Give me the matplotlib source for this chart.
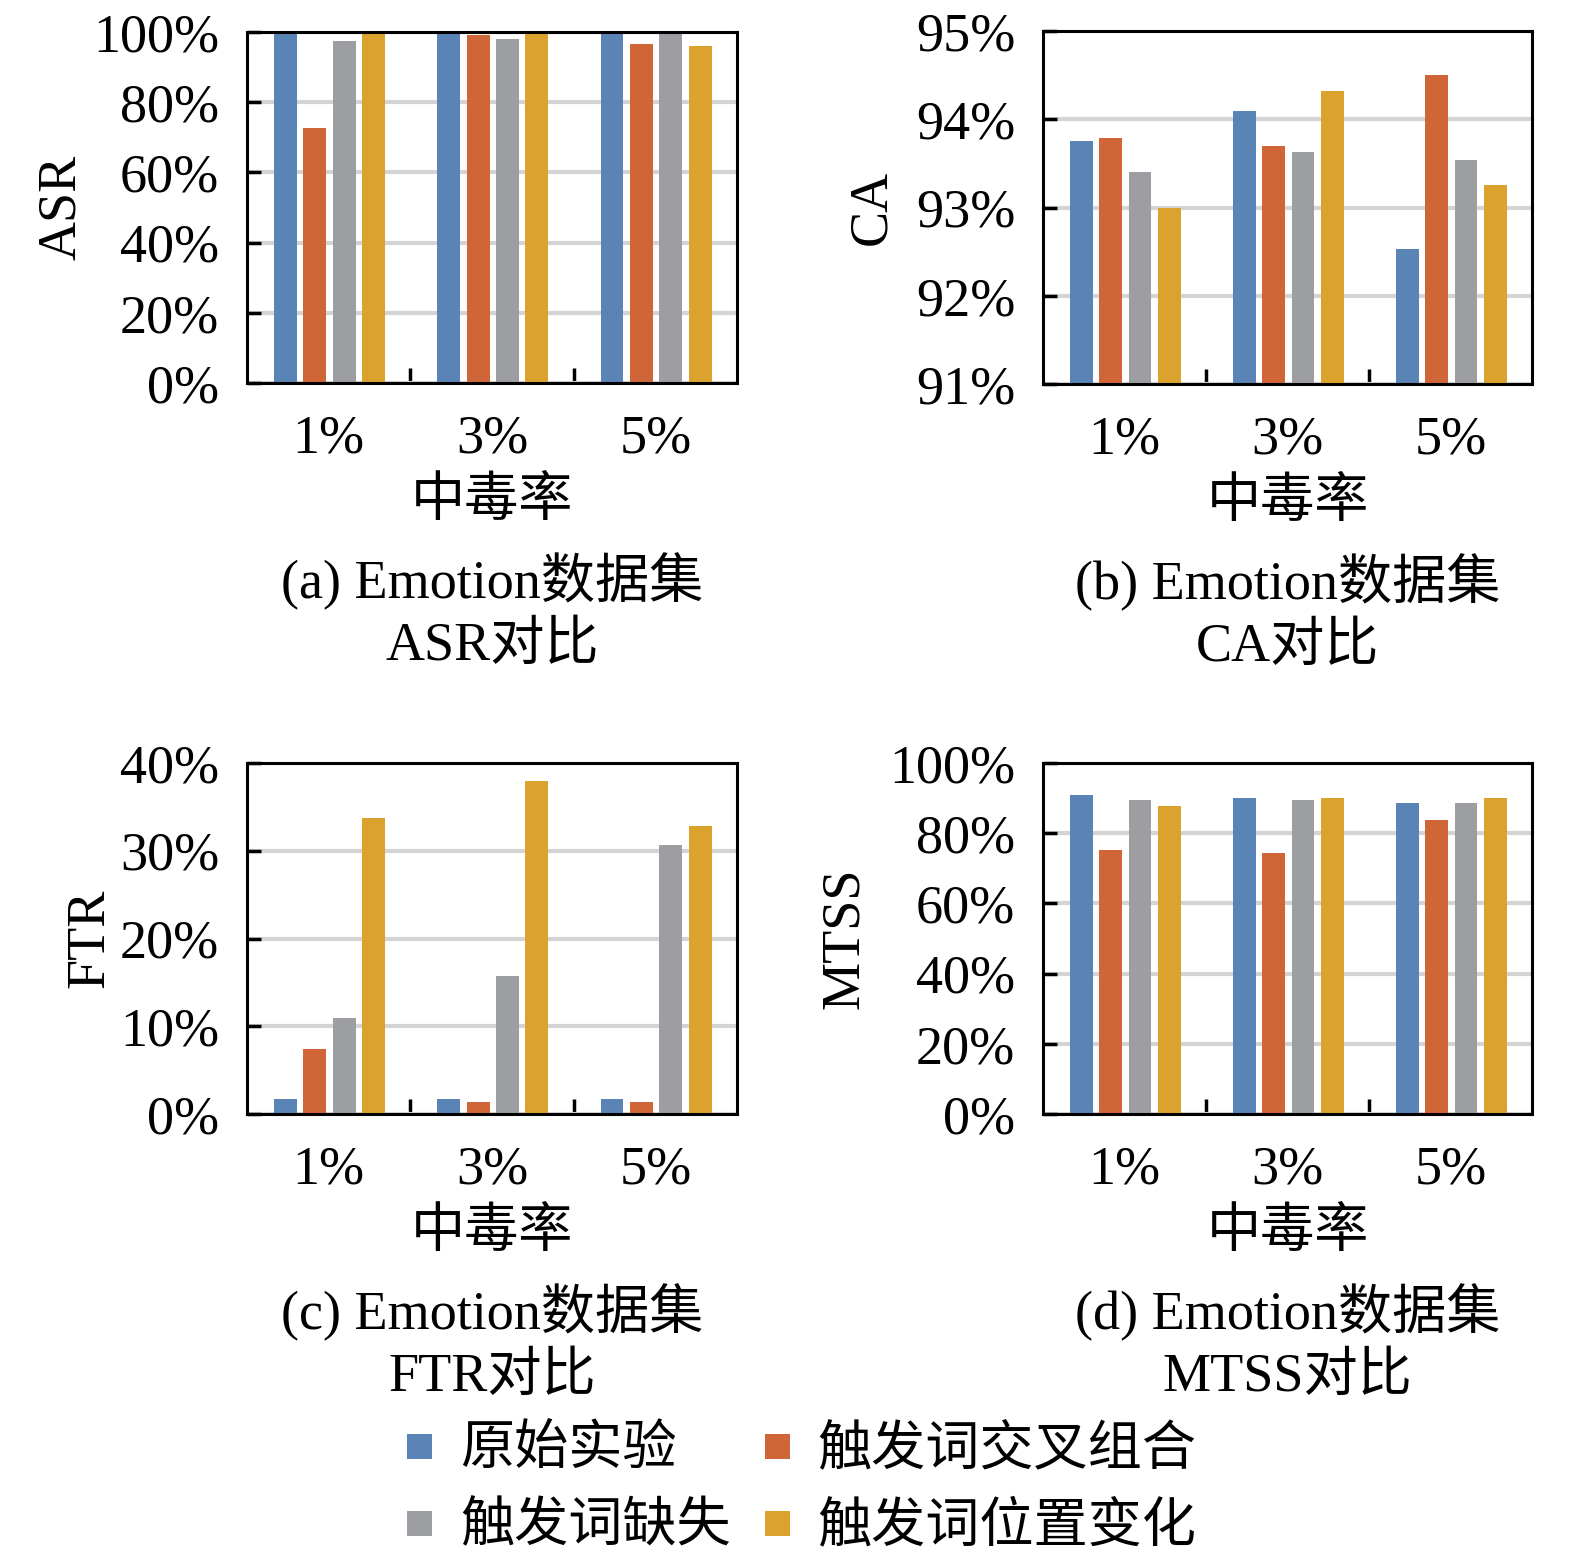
import matplotlib
matplotlib.use("Agg")
import matplotlib.pyplot as plt
from matplotlib.lines import Line2D
import numpy as np

plt.rcParams['font.family'] = ['Liberation Serif', 'Noto Sans CJK SC', 'DejaVu Sans']

rates = ["1%", "3%", "5%"]
series_names = ["原始实验", "触发词交叉组合", "触发词缺失", "触发词位置变化"]
colors = ["#5A84B6", "#D06538", "#9D9EA1", "#DBA32E"]

asr_orig = [99.4, 100.0, 100.0]
asr_cross = [72.6, 99.1, 96.6]
asr_miss = [97.5, 98.1, 100.0]
asr_pos = [100.0, 100.0, 96.1]

ca_orig = [93.75, 94.09, 92.53]
ca_cross = [93.79, 93.70, 94.50]
ca_miss = [93.40, 93.63, 93.54]
ca_pos = [93.00, 94.32, 93.25]

ftr_orig = [1.7, 1.7, 1.7]
ftr_cross = [7.4, 1.4, 1.4]
ftr_miss = [10.9, 15.7, 30.6]
ftr_pos = [33.7, 37.9, 32.8]

mtss_orig = [90.9, 90.1, 88.6]
mtss_cross = [75.2, 74.3, 83.9]
mtss_miss = [89.4, 89.4, 88.6]
mtss_pos = [87.8, 90.1, 90.1]

FS = 39
W, H = 1575, 1563
fig = plt.figure(figsize=(W / 100, H / 100), dpi=100)


def px_axes(left, top, right, bottom):
    return fig.add_axes([left / W, 1 - bottom / H, (right - left) / W, (bottom - top) / H])


def make_panel(box, data, ylim, yticks, ylabel, ylab_x, caption):
    ax = px_axes(*box)
    x = np.arange(3) + 0.5
    offsets = [-0.265, -0.085, 0.095, 0.275]
    for vals, off, c in zip(data, offsets, colors):
        ax.bar(x + off, vals, width=0.14, color=c, linewidth=0, zorder=3)
    ax.set_xlim(0, 3)
    ax.set_ylim(*ylim)
    ax.set_yticks(yticks)
    ax.set_yticklabels(["%d%%" % t for t in yticks], fontsize=FS)
    ax.set_xticks(x)
    ax.set_xticklabels(rates, fontsize=FS)
    ax.set_xticks([1, 2], minor=True)
    ax.tick_params(axis='x', which='major', length=0, pad=22)
    ax.tick_params(axis='x', which='minor', direction='in', length=11, width=2.5)
    ax.tick_params(axis='y', direction='in', length=10, width=2.5, pad=20)
    ax.yaxis.grid(True, color='#d4d4d4', linewidth=3, zorder=0)
    ax.set_axisbelow(True)
    for s in ax.spines.values():
        s.set_linewidth(2.2)
        s.set_zorder(5)
    left, top, right, bottom = box
    cx = (left + right) / 2
    fig.text(ylab_x / W, 1 - (top + bottom) / 2 / H, ylabel, rotation=90,
             ha='center', va='center', fontsize=FS)
    fig.text(cx / W, 1 - (bottom + 120) / H, "中毒率", ha='center', va='center', fontsize=FS)
    fig.text(cx / W, 1 - (bottom + 198) / H, caption[0], ha='center', va='center', fontsize=FS)
    fig.text(cx / W, 1 - (bottom + 264) / H, caption[1], ha='center', va='center', fontsize=FS)
    return ax


make_panel((247, 32, 737, 383), [asr_orig, asr_cross, asr_miss, asr_pos],
           (0, 100), [0, 20, 40, 60, 80, 100], "ASR", 62,
           ("(a) Emotion数据集", "ASR对比"))
make_panel((1043, 31, 1532, 384), [ca_orig, ca_cross, ca_miss, ca_pos],
           (91, 95), [91, 92, 93, 94, 95], "CA", 872,
           ("(b) Emotion数据集", "CA对比"))
make_panel((247, 763, 737, 1114), [ftr_orig, ftr_cross, ftr_miss, ftr_pos],
           (0, 40), [0, 10, 20, 30, 40], "FTR", 90,
           ("(c) Emotion数据集", "FTR对比"))
make_panel((1043, 763, 1532, 1114), [mtss_orig, mtss_cross, mtss_miss, mtss_pos],
           (0, 100), [0, 20, 40, 60, 80, 100], "MTSS", 845,
           ("(d) Emotion数据集", "MTSS对比"))

handles = [Line2D([], [], linestyle='none', marker='s', markersize=18,
                  markerfacecolor=c, markeredgewidth=0) for c in colors]
order = [0, 2, 1, 3]  # legend fills by column; reference reads by row
fig.legend([handles[i] for i in order], [series_names[i] for i in order],
           ncol=2, frameon=False, fontsize=FS,
           loc='center', bbox_to_anchor=(797 / W, 1 - 1490 / H),
           handletextpad=0.35, columnspacing=0.45, labelspacing=0.48,
           handlelength=0.8)

fig.savefig("out.png", dpi=100)
